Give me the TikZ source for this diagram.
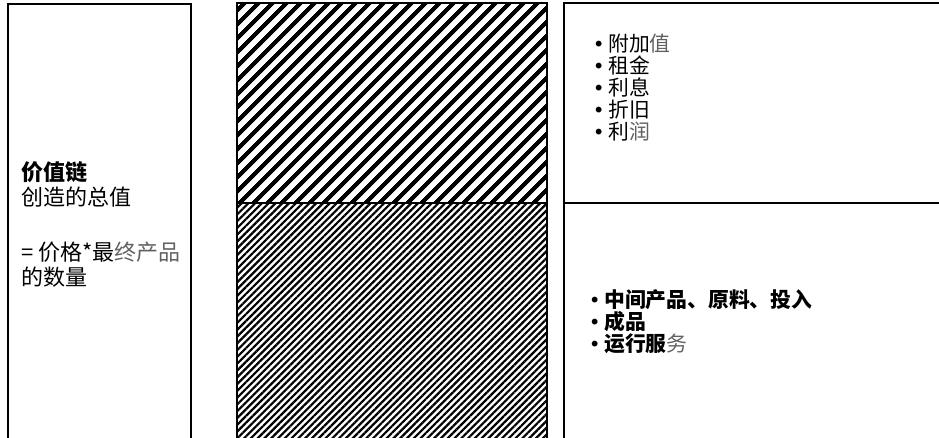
\documentclass[tikz,border=0pt]{standalone}
\usepackage{fontspec}
\setmainfont{Noto Sans CJK SC}
\newfontfamily\symfont{DejaVu Sans}
\usetikzlibrary{patterns.meta,positioning}
\newcommand\itm{\makebox[19pt][c]{\symfont\fontsize{20}{22}\selectfont •}}
\newcommand\lite[1]{\textcolor{black!62}{#1}}

\begin{document}
\begin{tikzpicture}[x=1pt,y=-1pt,
    box/.style={draw=black,line width=2.5pt},
    coarse/.style={pattern={Lines[angle=45,distance=10.5pt,line width=4.5pt]}},
    fine/.style={pattern={Lines[angle=45,distance=4.8pt,line width=2.2pt]}},
    txt/.style={font=\fontsize{20.8}{22}\selectfont,align=left,anchor=west,inner sep=0pt}]
		\clip (0,0) rectangle (939,438);
		% Define columns
		\draw[box] (8,4) rectangle (191,450);
		\draw[box,coarse] (237,3) rectangle (547,203);
		\draw[box,fine] (237,203) rectangle (547,450);
		\draw[box] (564,3) rectangle (950,450);
		\draw[box] (564,203) -- (950,203);
		% Labels
		\node[txt,font=\fontsize{22}{25}\selectfont] (chain) at (21,224) {\textbf{价值链}\\创造的总值\\[30pt]= 价格*最\lite{终产品}\\的数量};
		\node[txt] (income) at (589,88) {\itm 附加\lite{值}\\\itm 租金\\\itm 利息\\\itm 折旧\\\itm 利\lite{润}};
		\node[txt] (inputs) at (585,322) {\itm\textbf{中间产品、原料、投入}\\\itm\textbf{成品}\\\itm\textbf{运行服}\lite{务}};
	\end{tikzpicture}
\end{document}
